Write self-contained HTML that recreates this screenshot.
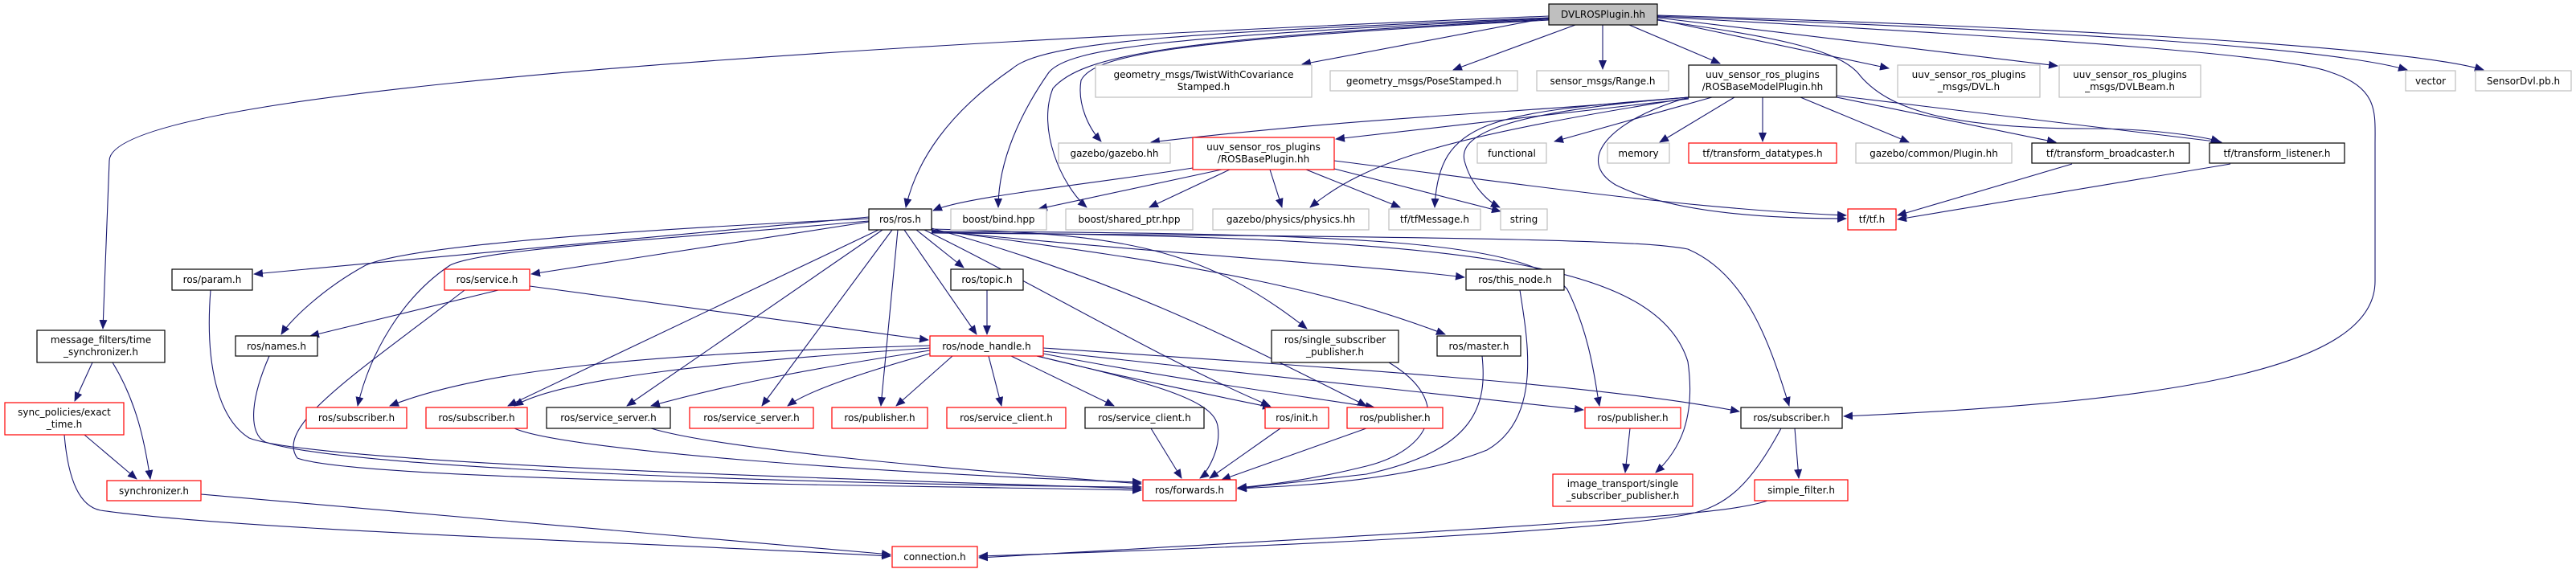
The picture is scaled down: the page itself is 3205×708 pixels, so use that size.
<!DOCTYPE html>
<html><head><meta charset="utf-8"><style>
html,body{margin:0;padding:0;background:#fff;}
svg{display:block;}
text{font-family:"DejaVu Sans","Liberation Sans",sans-serif;font-size:12px;fill:#000;}
.e{fill:none;stroke:#191970;stroke-width:1.1;}
</style></head><body>
<svg width="3205" height="708" viewBox="0 0 3205 708" xmlns="http://www.w3.org/2000/svg">
<defs><marker id="a" markerWidth="12" markerHeight="10" refX="11" refY="5" orient="auto" markerUnits="userSpaceOnUse"><path d="M0,0 L12,5 L0,10 Z" fill="#191970"/></marker></defs>
<g class="e" marker-end="url(#a)">
<path d="M1927,20 C700,70 136,130 136,200 L128,409"/>
<path d="M1927,22 C1500,40 1300,50 1260,85 C1180,140 1140,200 1127,258"/>
<path d="M1927,23 C1450,45 1330,60 1305,90 C1270,140 1242,200 1242,258"/>
<path d="M1927,24 C1450,48 1345,70 1310,110 C1290,160 1320,230 1352,258"/>
<path d="M1927,25 C1450,50 1360,70 1345,100 C1340,130 1355,160 1370,176"/>
<path d="M1927,22 L1620,80"/>
<path d="M1960,31 L1808,87"/>
<path d="M1994,31 L1994,86"/>
<path d="M2027,31 L2140,79"/>
<path d="M2062,24 L2350,85"/>
<path d="M2062,22 L2560,82"/>
<path d="M2062,20 C2600,40 2900,60 2995,87"/>
<path d="M2062,19 C2600,35 3000,60 3090,87"/>
<path d="M2062,25 C2200,45 2290,60 2315,95 C2350,135 2420,160 2600,160 C2680,160 2740,170 2762,176"/>
<path d="M2062,21 C2600,50 2850,70 2900,90 C2960,110 2955,140 2955,180 L2955,350 C2955,460 2700,500 2294,518"/>
<path d="M2101,121 C1900,140 1700,145 1432,177"/>
<path d="M2101,123 L1662,173"/>
<path d="M2130,121 L1934,176"/>
<path d="M2158,121 L2065,177"/>
<path d="M2193,121 L2193,176"/>
<path d="M2240,121 L2375,177"/>
<path d="M2285,121 L2558,177"/>
<path d="M2285,119 L2764,177"/>
<path d="M2101,122 C1800,170 1700,200 1630,258"/>
<path d="M2101,121 C1850,140 1790,150 1785,258"/>
<path d="M2101,121 C1860,140 1815,170 1822,200 C1830,230 1850,250 1866,258"/>
<path d="M2101,121 C2000,150 1960,200 2010,230 C2080,265 2200,272 2297,272"/>
<path d="M1484,209 C1350,230 1200,245 1161,262"/>
<path d="M1520,211 L1292,260"/>
<path d="M1530,211 L1430,258"/>
<path d="M1580,211 L1595,258"/>
<path d="M1625,211 L1742,258"/>
<path d="M1660,210 L1867,263"/>
<path d="M1660,200 C1900,230 2100,260 2297,268"/>
<path d="M1081,270 L316,341"/>
<path d="M1081,272 C700,290 500,310 455,330 C400,360 360,400 350,416"/>
<path d="M1081,276 L661,341"/>
<path d="M1081,275 C800,300 600,310 560,330 C500,370 460,440 445,505"/>
<path d="M1093,286 L632,505"/>
<path d="M1098,286 L780,505"/>
<path d="M1110,286 L948,505"/>
<path d="M1117,286 L1096,505"/>
<path d="M1125,286 L1215,416"/>
<path d="M1140,286 L1199,333"/>
<path d="M1150,286 C1300,360 1450,450 1580,505"/>
<path d="M1159,284 C1400,350 1550,430 1700,505"/>
<path d="M1159,285 C1400,290 1500,310 1626,409"/>
<path d="M1159,286 C1500,330 1650,360 1798,416"/>
<path d="M1159,287 C1500,320 1700,330 1822,345"/>
<path d="M1159,288 C1700,290 1900,300 1950,360 C1980,420 1985,480 1990,505"/>
<path d="M1159,289 C1800,295 2060,320 2100,450 C2110,520 2090,560 2060,588"/>
<path d="M1159,290 C1900,295 2050,300 2100,310 C2170,340 2200,420 2226,505"/>
<path d="M620,361 L386,418"/>
<path d="M659,356 L1155,423"/>
<path d="M578,361 C450,460 340,530 370,570 C450,600 1200,605 1420,610"/>
<path d="M262,361 C255,450 270,520 310,545 C400,580 1200,600 1420,608"/>
<path d="M335,443 C310,500 310,540 330,550 C450,590 1200,605 1420,606"/>
<path d="M1228,361 L1228,416"/>
<path d="M1157,430 C800,440 600,460 485,505"/>
<path d="M1157,433 C900,450 700,470 640,505"/>
<path d="M1157,436 C1000,460 900,480 810,505"/>
<path d="M1157,440 C1050,470 1000,490 980,505"/>
<path d="M1185,443 L1115,505"/>
<path d="M1230,443 L1246,505"/>
<path d="M1258,443 L1386,505"/>
<path d="M1290,443 C1400,470 1500,490 1582,507"/>
<path d="M1298,440 C1450,470 1600,490 1710,507"/>
<path d="M1298,437 L1970,510"/>
<path d="M1298,433 C1700,460 2000,480 2164,512"/>
<path d="M1290,443 C1450,480 1510,500 1515,530 C1520,560 1500,590 1493,595"/>
<path d="M640,533 C700,560 1100,590 1420,600"/>
<path d="M810,533 C900,560 1200,585 1420,602"/>
<path d="M1432,533 L1470,595"/>
<path d="M1593,533 L1505,595"/>
<path d="M1700,533 L1520,597"/>
<path d="M1728,451 C1810,500 1780,560 1700,580 C1620,600 1560,605 1540,607"/>
<path d="M1844,443 C1850,500 1840,560 1700,590 L1540,608"/>
<path d="M1891,361 C1900,420 1920,520 1850,560 C1750,600 1600,605 1540,608"/>
<path d="M2028,533 L2022,588"/>
<path d="M2233,533 L2238,595"/>
<path d="M2216,533 C2180,600 2150,630 2100,640 C2000,660 1600,680 1218,692"/>
<path d="M2199,623 C2150,640 2000,650 1218,694"/>
<path d="M115,451 L93,499"/>
<path d="M140,451 C170,500 180,550 187,596"/>
<path d="M105,541 L170,596"/>
<path d="M80,541 C85,600 100,630 125,635 C300,660 800,675 1108,692"/>
<path d="M250,615 L1108,690"/>
<path d="M2578,204 L2361,268"/>
<path d="M2775,204 L2361,273"/>
</g>
<g stroke-width="1.2">
<rect x="1927" y="5" width="135" height="26" fill="#bfbfbf" stroke="#000"/><text x="1994.5" y="22" text-anchor="middle">DVLROSPlugin.hh</text>
<rect x="1363" y="81" width="269" height="40" fill="#fff" stroke="#bfbfbf"/><text x="1497.5" y="97" text-anchor="middle">geometry_msgs/TwistWithCovariance</text><text x="1497.5" y="112" text-anchor="middle">Stamped.h</text>
<rect x="1655" y="88" width="233" height="25" fill="#fff" stroke="#bfbfbf"/><text x="1771.5" y="105" text-anchor="middle">geometry_msgs/PoseStamped.h</text>
<rect x="1912" y="88" width="164" height="25" fill="#fff" stroke="#bfbfbf"/><text x="1994" y="105" text-anchor="middle">sensor_msgs/Range.h</text>
<rect x="2101" y="81" width="184" height="40" fill="#fff" stroke="#000"/><text x="2193" y="97" text-anchor="middle">uuv_sensor_ros_plugins</text><text x="2193" y="112" text-anchor="middle">/ROSBaseModelPlugin.hh</text>
<rect x="2361" y="81" width="177" height="40" fill="#fff" stroke="#bfbfbf"/><text x="2449.5" y="97" text-anchor="middle">uuv_sensor_ros_plugins</text><text x="2449.5" y="112" text-anchor="middle">_msgs/DVL.h</text>
<rect x="2562" y="81" width="176" height="40" fill="#fff" stroke="#bfbfbf"/><text x="2650" y="97" text-anchor="middle">uuv_sensor_ros_plugins</text><text x="2650" y="112" text-anchor="middle">_msgs/DVLBeam.h</text>
<rect x="2993" y="88" width="62" height="25" fill="#fff" stroke="#bfbfbf"/><text x="3024" y="105" text-anchor="middle">vector</text>
<rect x="3080" y="88" width="119" height="25" fill="#fff" stroke="#bfbfbf"/><text x="3139.5" y="105" text-anchor="middle">SensorDvl.pb.h</text>
<rect x="1317" y="178" width="139" height="25" fill="#fff" stroke="#bfbfbf"/><text x="1386.5" y="195" text-anchor="middle">gazebo/gazebo.hh</text>
<rect x="1484" y="171" width="176" height="40" fill="#fff" stroke="#f00"/><text x="1572" y="187" text-anchor="middle">uuv_sensor_ros_plugins</text><text x="1572" y="202" text-anchor="middle">/ROSBasePlugin.hh</text>
<rect x="1838" y="178" width="86" height="25" fill="#fff" stroke="#bfbfbf"/><text x="1881" y="195" text-anchor="middle">functional</text>
<rect x="2000" y="178" width="77" height="25" fill="#fff" stroke="#bfbfbf"/><text x="2038.5" y="195" text-anchor="middle">memory</text>
<rect x="2101" y="178" width="184" height="25" fill="#fff" stroke="#f00"/><text x="2193" y="195" text-anchor="middle">tf/transform_datatypes.h</text>
<rect x="2309" y="178" width="194" height="25" fill="#fff" stroke="#bfbfbf"/><text x="2406" y="195" text-anchor="middle">gazebo/common/Plugin.hh</text>
<rect x="2528" y="178" width="196" height="25" fill="#fff" stroke="#000"/><text x="2626" y="195" text-anchor="middle">tf/transform_broadcaster.h</text>
<rect x="2749" y="178" width="168" height="25" fill="#fff" stroke="#000"/><text x="2833" y="195" text-anchor="middle">tf/transform_listener.h</text>
<rect x="1081" y="260" width="78" height="26" fill="#fff" stroke="#000"/><text x="1120" y="277" text-anchor="middle">ros/ros.h</text>
<rect x="1183" y="260" width="119" height="26" fill="#fff" stroke="#bfbfbf"/><text x="1242.5" y="277" text-anchor="middle">boost/bind.hpp</text>
<rect x="1326" y="260" width="158" height="26" fill="#fff" stroke="#bfbfbf"/><text x="1405" y="277" text-anchor="middle">boost/shared_ptr.hpp</text>
<rect x="1509" y="260" width="194" height="26" fill="#fff" stroke="#bfbfbf"/><text x="1606" y="277" text-anchor="middle">gazebo/physics/physics.hh</text>
<rect x="1728" y="260" width="114" height="26" fill="#fff" stroke="#bfbfbf"/><text x="1785" y="277" text-anchor="middle">tf/tfMessage.h</text>
<rect x="1867" y="260" width="58" height="26" fill="#fff" stroke="#bfbfbf"/><text x="1896" y="277" text-anchor="middle">string</text>
<rect x="2299" y="260" width="60" height="26" fill="#fff" stroke="#f00"/><text x="2329" y="277" text-anchor="middle">tf/tf.h</text>
<rect x="214" y="335" width="100" height="26" fill="#fff" stroke="#000"/><text x="264" y="352" text-anchor="middle">ros/param.h</text>
<rect x="553" y="335" width="106" height="26" fill="#fff" stroke="#f00"/><text x="606" y="352" text-anchor="middle">ros/service.h</text>
<rect x="1183" y="335" width="90" height="26" fill="#fff" stroke="#000"/><text x="1228" y="352" text-anchor="middle">ros/topic.h</text>
<rect x="1824" y="335" width="122" height="26" fill="#fff" stroke="#000"/><text x="1885" y="352" text-anchor="middle">ros/this_node.h</text>
<rect x="293" y="418" width="102" height="25" fill="#fff" stroke="#000"/><text x="344" y="435" text-anchor="middle">ros/names.h</text>
<rect x="46" y="411" width="159" height="40" fill="#fff" stroke="#000"/><text x="125.5" y="427" text-anchor="middle">message_filters/time</text><text x="125.5" y="442" text-anchor="middle">_synchronizer.h</text>
<rect x="1157" y="418" width="141" height="25" fill="#fff" stroke="#f00"/><text x="1227.5" y="435" text-anchor="middle">ros/node_handle.h</text>
<rect x="1582" y="411" width="158" height="40" fill="#fff" stroke="#000"/><text x="1661" y="427" text-anchor="middle">ros/single_subscriber</text><text x="1661" y="442" text-anchor="middle">_publisher.h</text>
<rect x="1788" y="418" width="104" height="25" fill="#fff" stroke="#000"/><text x="1840" y="435" text-anchor="middle">ros/master.h</text>
<rect x="6" y="501" width="148" height="40" fill="#fff" stroke="#f00"/><text x="80" y="517" text-anchor="middle">sync_policies/exact</text><text x="80" y="532" text-anchor="middle">_time.h</text>
<rect x="381" y="507" width="125" height="26" fill="#fff" stroke="#f00"/><text x="443.5" y="524" text-anchor="middle">ros/subscriber.h</text>
<rect x="530" y="507" width="126" height="26" fill="#fff" stroke="#f00"/><text x="593" y="524" text-anchor="middle">ros/subscriber.h</text>
<rect x="680" y="507" width="154" height="26" fill="#fff" stroke="#000"/><text x="757" y="524" text-anchor="middle">ros/service_server.h</text>
<rect x="858" y="507" width="154" height="26" fill="#fff" stroke="#f00"/><text x="935" y="524" text-anchor="middle">ros/service_server.h</text>
<rect x="1035" y="507" width="119" height="26" fill="#fff" stroke="#f00"/><text x="1094.5" y="524" text-anchor="middle">ros/publisher.h</text>
<rect x="1178" y="507" width="148" height="26" fill="#fff" stroke="#f00"/><text x="1252" y="524" text-anchor="middle">ros/service_client.h</text>
<rect x="1350" y="507" width="148" height="26" fill="#fff" stroke="#000"/><text x="1424" y="524" text-anchor="middle">ros/service_client.h</text>
<rect x="1574" y="507" width="79" height="26" fill="#fff" stroke="#f00"/><text x="1613.5" y="524" text-anchor="middle">ros/init.h</text>
<rect x="1676" y="507" width="119" height="26" fill="#fff" stroke="#f00"/><text x="1735.5" y="524" text-anchor="middle">ros/publisher.h</text>
<rect x="1972" y="507" width="119" height="26" fill="#fff" stroke="#f00"/><text x="2031.5" y="524" text-anchor="middle">ros/publisher.h</text>
<rect x="2166" y="507" width="126" height="26" fill="#fff" stroke="#000"/><text x="2229" y="524" text-anchor="middle">ros/subscriber.h</text>
<rect x="133" y="598" width="117" height="25" fill="#fff" stroke="#f00"/><text x="191.5" y="615" text-anchor="middle">synchronizer.h</text>
<rect x="1422" y="597" width="116" height="26" fill="#fff" stroke="#f00"/><text x="1480" y="614" text-anchor="middle">ros/forwards.h</text>
<rect x="1932" y="590" width="174" height="40" fill="#fff" stroke="#f00"/><text x="2019" y="606" text-anchor="middle">image_transport/single</text><text x="2019" y="621" text-anchor="middle">_subscriber_publisher.h</text>
<rect x="2183" y="597" width="116" height="26" fill="#fff" stroke="#f00"/><text x="2241" y="614" text-anchor="middle">simple_filter.h</text>
<rect x="1110" y="680" width="106" height="26" fill="#fff" stroke="#f00"/><text x="1163" y="697" text-anchor="middle">connection.h</text>
</g>
</svg>
</body></html>
